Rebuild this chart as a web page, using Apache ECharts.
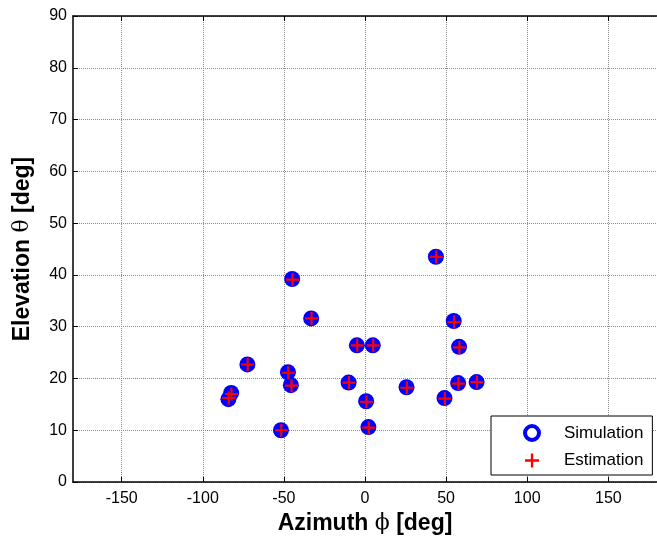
<!DOCTYPE html>
<html><head><meta charset="utf-8">
<script src="https://cdn.jsdelivr.net/npm/echarts@6/dist/echarts.min.js"></script>
<style>html,body{margin:0;padding:0;background:#fff}#c{width:657px;height:542px}</style>
</head><body><div id="c"></div>
<script>
// Data (azimuth deg, elevation deg)
const azimuth = [43.7, -44.9, -33.2, 54.7, -5.0, 4.8, 58.0, -72.5, -47.5, -45.7, -10.1, 25.6, 57.4, 68.8, -82.5, -84.2, 0.7, 49.0, -51.8, 2.1];
const elevation = [43.5, 39.2, 31.6, 31.1, 26.4, 26.4, 26.1, 22.7, 21.2, 18.7, 19.2, 18.3, 19.1, 19.3, 17.2, 16.0, 15.6, 16.2, 10.0, 10.6];
const estAzimuth = [43.9, -44.7, -33.0, 54.9, -4.8, 5.0, 58.2, -72.3, -47.3, -45.3, -9.9, 25.8, 57.6, 69.0, -82.3, -84.0, 0.9, 49.2, -51.6, 2.3];
const estElevation = [43.5, 39.1, 31.6, 30.9, 26.4, 26.4, 26.0, 22.7, 21.1, 18.6, 19.2, 18.2, 19.0, 19.3, 17.0, 16.2, 15.5, 16.1, 10.0, 10.5];
const xTicks = [-150, -100, -50, 0, 50, 100, 150];
const yTicks = [0, 10, 20, 30, 40, 50, 60, 70, 80, 90];

const simData = azimuth.map((a, i) => [a, elevation[i]]);
const estData = estAzimuth.map((a, i) => [a, estElevation[i]]);

const FONT = 'Liberation Sans, Arial, sans-serif';
const crossPath = 'path://M-1,-6L1,-6L1,-1L6,-1L6,1L1,1L1,6L-1,6L-1,1L-6,1L-6,-1L-1,-1Z';
const gridLine = {show: true, lineStyle: {color: '#8a8a8a', type: [1, 1], width: 1}};

const chart = echarts.init(document.getElementById('c'), null, {renderer: 'canvas'});
chart.setOption({
  animation: false,
  backgroundColor: '#fff',
  grid: {left: 73, top: 16, width: 587, height: 466, containLabel: false},
  xAxis: [{
    type: 'value', min: -180, max: 180, position: 'bottom',
    axisLine: {show: true, onZero: false, lineStyle: {color: '#000', width: 1.5}},
    axisTick: {show: true, inside: true, length: 5, customValues: xTicks, lineStyle: {color: '#000'}},
    axisLabel: {show: true, customValues: xTicks, margin: 9, color: '#000', fontSize: 16, fontFamily: FONT},
    splitLine: gridLine,
    name: 'Azimuth {g|ϕ} [deg]', nameLocation: 'middle', nameGap: 29,
    nameTextStyle: {color: '#000', fontSize: 23, fontWeight: 'bold', fontFamily: FONT,
      rich: {g: {fontSize: 22, fontWeight: 'normal', fontFamily: 'DejaVu Serif, serif', color: '#000'}}}
  }, {
    type: 'value', min: -180, max: 180, position: 'top',
    axisLine: {show: true, onZero: false, lineStyle: {color: '#000', width: 1.5}},
    axisTick: {show: true, inside: true, length: 5, customValues: xTicks, lineStyle: {color: '#000'}},
    axisLabel: {show: false}, splitLine: {show: false}
  }],
  yAxis: [{
    type: 'value', min: 0, max: 90, interval: 10,
    axisLine: {show: true, onZero: false, lineStyle: {color: '#000', width: 1.5}},
    axisTick: {show: true, inside: true, length: 5, lineStyle: {color: '#000'}},
    axisLabel: {show: true, margin: 6, color: '#000', fontSize: 16, fontFamily: FONT},
    splitLine: gridLine,
    name: 'Elevation {g|θ} [deg]', nameLocation: 'middle', nameGap: 39,
    nameTextStyle: {color: '#000', fontSize: 23, fontWeight: 'bold', fontFamily: FONT,
      rich: {g: {fontSize: 22, fontWeight: 'normal', fontFamily: 'DejaVu Serif, serif', color: '#000'}}}
  }],
  legend: {
    orient: 'vertical', left: 491, top: 416,
    padding: [8, 9, 6, 32], itemGap: 10, itemWidth: 14, itemHeight: 14,
    backgroundColor: '#fff', borderColor: '#000', borderWidth: 1,
    textStyle: {color: '#000', fontSize: 17, fontFamily: FONT, padding: [0, 0, 0, 20]},
    data: [
      {name: 'Simulation', icon: 'circle', itemStyle: {color: '#fff', borderColor: '#0000ff', borderWidth: 4}},
      {name: 'Estimation', icon: crossPath, itemStyle: {color: '#ff0000', borderWidth: 0}}
    ]
  },
  series: [{
    name: 'Simulation', type: 'scatter', data: simData,
    symbol: 'circle', symbolSize: 16,
    itemStyle: {color: '#0000ff', opacity: 1}
  }, {
    name: 'Estimation', type: 'scatter', data: estData,
    symbol: crossPath, symbolSize: 13,
    itemStyle: {color: '#ff0000', opacity: 1}
  }]
});
</script></body></html>
